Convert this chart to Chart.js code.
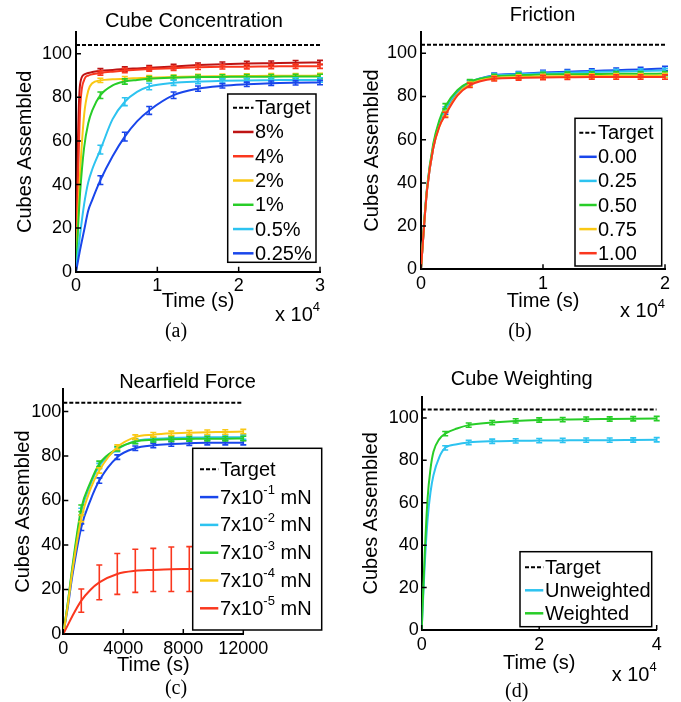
<!DOCTYPE html>
<html>
<head>
<meta charset="utf-8">
<title>Cubes Assembled</title>
<script src="https://cdn.jsdelivr.net/npm/chart.js@4.4.0/dist/chart.umd.min.js"></script>
<style>
  body { margin: 0; background: #fff; }
  #wrap { position: relative; width: 681px; height: 702px; }
  canvas { position: absolute; }
</style>
</head>
<body>
<div id="wrap">
  <canvas id="chartA" width="340" height="345" style="left:0;top:0"></canvas>
  <canvas id="chartB" width="341" height="345" style="left:340px;top:0"></canvas>
  <canvas id="chartC" width="340" height="357" style="left:0;top:345px"></canvas>
  <canvas id="chartD" width="341" height="357" style="left:340px;top:345px"></canvas>
</div>
<script>
var FONT = '"Liberation Sans", Arial, sans-serif';
var SERIF = '"Liberation Serif", "Times New Roman", serif';

var target = 104;
var yTicks = [0, 20, 40, 60, 80, 100];

// (a) cube concentration
var timeA = [0, 250, 500, 1000, 1500, 2000, 3000, 4500, 6000, 7500, 9000, 12000, 15000, 18000, 21000, 24000, 27000, 30000];
var barsA = [3000, 6000, 9000, 12000, 15000, 18000, 21000, 24000, 27000, 30000];
var xTicksA = [0, 10000, 20000, 30000];
var conc8   = [0, 62, 86, 90.5, 91.2, 91.6, 92.2, 92.6, 93, 93.3, 93.6, 94.2, 94.8, 95.2, 95.5, 95.7, 95.9, 96];
var conc4   = [0, 42, 74, 88, 90, 90.6, 91.2, 91.8, 92.3, 92.7, 93, 93.4, 93.8, 94, 94.1, 94.2, 94.3, 94.3];
var conc2   = [0, 25, 45, 72, 83, 86.5, 87.8, 88.3, 88.6, 88.8, 89, 89.3, 89.6, 89.7, 89.8, 89.9, 89.9, 90];
var conc1   = [0, 20, 36, 57, 68, 74, 81, 85.5, 87.3, 88, 88.5, 89, 89.3, 89.4, 89.5, 89.5, 89.6, 89.6];
var conc05  = [0, 9, 17, 31, 41, 47, 56, 70, 78, 82.5, 85, 86.7, 87.3, 87.6, 87.8, 87.9, 88, 88];
var conc025 = [0, 5, 10, 19, 28, 33, 42, 53, 62, 69, 74, 81, 84, 85.3, 86, 86.5, 86.7, 86.8];
var err8   = [1, 1, 1, 1, 1, 1, 1, 1, 1, 1];
var err4   = [1, 1, 1, 1, 1, 1, 1, 1, 1, 1];
var err2   = [1, 1, 1, 1, 1, 1, 1, 1, 1, 1];
var err1   = [1.5, 1.2, 1, 1, 1, 1, 1, 1, 1, 1];
var err05  = [2, 1.8, 1.5, 1.2, 1, 1, 1, 1, 1, 1];
var err025 = [2, 2, 1.8, 1.5, 1.2, 1, 1, 1, 1, 1];

// (b) friction
var timeB = [0, 250, 500, 1000, 1500, 2000, 3000, 4000, 6000, 8000, 10000, 12000, 14000, 16000, 18000, 20000];
var barsB = [2000, 4000, 6000, 8000, 10000, 12000, 14000, 16000, 18000, 20000];
var xTicksB = [0, 10000, 20000];
var fric000 = [0, 20, 37, 56, 67, 73, 82, 86.3, 89.8, 90.5, 91.1, 91.5, 91.8, 92.2, 92.5, 93];
var fric025 = [0, 21, 38, 57, 68, 74, 82.5, 86.7, 89.6, 90.3, 90.8, 91, 91.3, 91.6, 91.8, 92];
var fric050 = [0, 21, 38, 58, 69, 75.5, 83, 86.8, 89.3, 89.8, 90.2, 90.3, 90.4, 90.5, 90.5, 90.6];
var fric075 = [0, 20, 37, 56, 66, 72, 81, 85.7, 88.6, 89, 89.3, 89.4, 89.5, 89.6, 89.6, 89.7];
var fric100 = [0, 20, 37, 56, 66, 71.5, 80.5, 85.2, 88.2, 88.6, 88.8, 88.9, 89, 89, 89, 89];
var errFric = [1.2, 1, 1, 1, 1, 1, 1, 1, 1, 1];

// (c) nearfield force
var timeC = [0, 300, 600, 1200, 1800, 2400, 3600, 4800, 6000, 7200, 8400, 9600, 10800, 12000];
var barsC = [1200, 2400, 3600, 4800, 6000, 7200, 8400, 9600, 10800, 12000];
var xTicksC = [0, 4000, 8000, 12000];
var force1 = [0, 12, 26, 48, 60, 69, 79.5, 83.5, 84.8, 85.4, 85.8, 86, 86, 86];
var force2 = [0, 14, 29, 55, 67, 75.5, 83, 86.7, 87.7, 88.1, 88.3, 88.4, 88.5, 88.5];
var force3 = [0, 14, 30, 56.5, 68, 76.5, 83.3, 86.5, 87.3, 87.6, 87.7, 87.8, 87.8, 87.9];
var force4 = [0, 13, 28, 52, 65, 73.5, 84, 88.5, 89.6, 90.2, 90.5, 90.7, 90.8, 91];
var force5 = [0, 4, 8, 15, 19.8, 23.2, 27, 28.4, 28.8, 29.1, 29.2, 29.3, 29.3, 29.3];
var errForce = [1.5, 1.2, 1, 1, 1, 1, 1, 1, 1, 1];
var errForce5 = [5.2, 7.8, 9.2, 9.7, 9.7, 10, 10.1, 10, 10, 10];

// (d) cube weighting
var timeD = [0, 500, 1000, 1500, 2000, 3000, 4000, 6000, 8000, 12000, 16000, 20000, 24000, 28000, 32000, 36000, 40000];
var barsD = [4000, 8000, 12000, 16000, 20000, 24000, 28000, 32000, 36000, 40000];
var xTicksD = [0, 20000, 40000];
var unweighted = [0, 30, 52, 65, 73, 81.5, 85.9, 87.6, 88.4, 89, 89.2, 89.3, 89.4, 89.5, 89.5, 89.6, 89.7];
var weighted   = [0, 35, 62, 76, 84, 90, 92.6, 95, 96.6, 97.8, 98.6, 99, 99.2, 99.4, 99.5, 99.6, 99.7];
var errWeight = [1, 1, 1, 1, 1, 1, 1, 1, 1, 1];

var DARKRED = 'rgb(190,20,20)', RED = 'rgb(250,55,30)', YELLOW = 'rgb(250,200,20)',
    GREEN = 'rgb(40,205,40)', CYAN = 'rgb(45,195,240)', BLUE = 'rgb(25,70,235)';

function series(label, times, values, color, errs) {
  return {
    label: label,
    data: times.map(function (t, i) { return { x: t, y: values[i] }; }),
    borderColor: color, borderWidth: 2, pointRadius: 0, fill: false,
    cubicInterpolationMode: 'monotone', errs: errs
  };
}

function targetLine(times) {
  return {
    label: 'Target',
    data: [{ x: times[0], y: target }, { x: times[times.length - 1], y: target }],
    borderColor: '#000', borderWidth: 2, borderDash: [4, 2], pointRadius: 0
  };
}

// text with ^{...} superscripts
function richWidth(ctx, text, size) {
  var parts = text.split(/\^\{([^}]*)\}/), w = 0;
  parts.forEach(function (s, i) {
    ctx.font = (i % 2 ? Math.round(size * 0.65) : size) + 'px ' + FONT;
    w += ctx.measureText(s).width;
  });
  return w;
}
function richText(ctx, text, x, y, size) {
  var parts = text.split(/\^\{([^}]*)\}/);
  ctx.textAlign = 'left';
  ctx.textBaseline = 'middle';
  parts.forEach(function (s, i) {
    var sup = i % 2 === 1;
    ctx.font = (sup ? Math.round(size * 0.65) : size) + 'px ' + FONT;
    ctx.fillText(s, x, sup ? y - size * 0.38 : y);
    x += ctx.measureText(s).width;
  });
}

function panelDecor(p) {
  return {
    id: 'panelDecor',
    afterDatasetDraw: function (chart, args) {
      var ds = chart.data.datasets[args.index];
      if (!ds.errs) return;
      var xs = chart.scales.x, ys = chart.scales.y, ctx = chart.ctx;
      ctx.save();
      ctx.strokeStyle = ds.borderColor;
      ctx.lineWidth = 1.6;
      ds.data.forEach(function (pt) {
        var k = p.bars.indexOf(pt.x);
        if (k < 0) return;
        var e = ds.errs[k], px = xs.getPixelForValue(pt.x);
        var top = ys.getPixelForValue(pt.y + e), bot = ys.getPixelForValue(pt.y - e);
        ctx.beginPath();
        ctx.moveTo(px, top); ctx.lineTo(px, bot);
        ctx.moveTo(px - 3, top); ctx.lineTo(px + 3, top);
        ctx.moveTo(px - 3, bot); ctx.lineTo(px + 3, bot);
        ctx.stroke();
      });
      ctx.restore();
    },
    afterDatasetsDraw: function (chart) {
      var ctx = chart.ctx, a = chart.chartArea, xs = chart.scales.x, ys = chart.scales.y;
      ctx.save();
      // inward tick marks
      ctx.strokeStyle = '#000';
      ctx.lineWidth = 1.5;
      ctx.beginPath();
      xs.ticks.forEach(function (t) {
        var px = xs.getPixelForValue(t.value);
        ctx.moveTo(px, a.bottom); ctx.lineTo(px, a.bottom - 5);
      });
      ys.ticks.forEach(function (t) {
        var py = ys.getPixelForValue(t.value);
        ctx.moveTo(a.left, py); ctx.lineTo(a.left + 5, py);
      });
      ctx.stroke();

      // legend box
      var lg = p.legend, b = lg.box;
      ctx.fillStyle = '#fff';
      ctx.fillRect(b[0], b[1], b[2] - b[0], b[3] - b[1]);
      ctx.lineWidth = 1.5;
      ctx.strokeRect(b[0], b[1], b[2] - b[0], b[3] - b[1]);
      chart.data.datasets.forEach(function (ds, i) {
        var y = lg.row0 + i * lg.step;
        ctx.save();
        ctx.strokeStyle = ds.borderColor;
        ctx.lineWidth = ds.borderDash ? 2 : 2.5;
        ctx.setLineDash(ds.borderDash || []);
        ctx.beginPath();
        ctx.moveTo(lg.sx[0], y); ctx.lineTo(lg.sx[1], y);
        ctx.stroke();
        ctx.restore();
        ctx.fillStyle = '#000';
        richText(ctx, ds.label, lg.tx, y + 1, 20);
      });
      ctx.restore();
    },
    afterDraw: function (chart) {
      var ctx = chart.ctx;
      ctx.save();
      ctx.fillStyle = '#000';
      ctx.textBaseline = 'middle';
      ctx.textAlign = 'center';
      ctx.font = '20px ' + FONT;
      ctx.fillText(p.title, p.titleX, p.titleY);
      if (p.mult) {
        var w = richWidth(ctx, p.mult, 20);
        richText(ctx, p.mult, p.multRight - w, p.multY, 20);
      }
      ctx.textAlign = 'center';
      ctx.font = '20px ' + SERIF;
      ctx.fillText(p.caption, p.capX, p.capY);
      ctx.restore();
    }
  };
}

function makePanel(id, p, datasets) {
  var canvas = document.getElementById(id);
  var H = canvas.height, W = canvas.width;
  datasets.forEach(function (d, i) { d.order = -i; });
  return new Chart(canvas, {
    type: 'line',
    data: { datasets: datasets },
    options: {
      responsive: false,
      animation: false,
      layout: { padding: { top: p.area.top, right: W - p.area.right, left: 0, bottom: 0 } },
      plugins: { legend: { display: false }, tooltip: { enabled: false } },
      scales: {
        x: {
          type: 'linear', min: 0, max: p.xTicks[p.xTicks.length - 1],
          grid: { display: false, drawTicks: false },
          border: { display: true, color: '#000', width: 2 },
          ticks: {
            color: '#000', font: { size: 18, family: FONT }, padding: 4,
            autoSkip: false, maxRotation: 0,
            callback: function (v) { return String(v / p.xDiv); }
          },
          afterBuildTicks: function (s) { s.ticks = p.xTicks.map(function (v) { return { value: v }; }); },
          afterFit: function (s) { s.height = H - p.area.bottom; },
          title: {
            display: true, text: 'Time (s)', color: '#000',
            font: { size: 20, family: FONT },
            padding: { top: 0, bottom: H - 12 - p.xTitleY }
          }
        },
        y: {
          min: 0, max: 110,
          grid: { display: false, drawTicks: false },
          border: { display: true, color: '#000', width: 2 },
          ticks: { color: '#000', font: { size: 18, family: FONT }, padding: p.yPad },
          afterBuildTicks: function (s) { s.ticks = yTicks.map(function (v) { return { value: v }; }); },
          afterFit: function (s) { s.width = p.area.left; },
          title: {
            display: true, text: 'Cubes Assembled', color: '#000',
            font: { size: 20, family: FONT },
            padding: { top: p.yTitleX - 12, bottom: 0 }
          }
        }
      }
    },
    plugins: [panelDecor(p)]
  });
}

Chart.defaults.font.family = FONT;

makePanel('chartA', {
  area: { left: 76, right: 320, top: 32, bottom: 271.7 },
  xTicks: xTicksA, xDiv: 10000, bars: barsA, yPad: 4,
  yTitleX: 25.7, xTitleY: 301.7,
  title: 'Cube Concentration', titleX: 194, titleY: 21.7,
  mult: 'x 10^{4}', multRight: 320, multY: 315,
  caption: '(a)', capX: 176, capY: 331.7,
  legend: { box: [227.7, 94, 316, 262.3], row0: 107.7, step: 24.27, sx: [233, 253.5], tx: 255 }
}, [
  targetLine(timeA),
  series('8%', timeA, conc8, DARKRED, err8),
  series('4%', timeA, conc4, RED, err4),
  series('2%', timeA, conc2, YELLOW, err2),
  series('1%', timeA, conc1, GREEN, err1),
  series('0.5%', timeA, conc05, CYAN, err05),
  series('0.25%', timeA, conc025, BLUE, err025)
]);

makePanel('chartB', {
  area: { left: 81, right: 325, top: 31.7, bottom: 269.3 },
  xTicks: xTicksB, xDiv: 10000, bars: barsB, yPad: 4,
  yTitleX: 32.5, xTitleY: 301.7,
  title: 'Friction', titleX: 202.5, titleY: 15.7,
  mult: 'x 10^{4}', multRight: 325, multY: 311.7,
  caption: '(b)', capX: 180, capY: 331.7,
  legend: { box: [235, 118.3, 321.7, 266], row0: 132.7, step: 24.1, sx: [239.3, 256.7], tx: 258 }
}, [
  targetLine(timeB),
  series('0.00', timeB, fric000, BLUE, errFric),
  series('0.25', timeB, fric025, CYAN, errFric),
  series('0.50', timeB, fric050, GREEN, errFric),
  series('0.75', timeB, fric075, YELLOW, errFric),
  series('1.00', timeB, fric100, RED, errFric)
]);

makePanel('chartC', {
  area: { left: 63.3, right: 243.3, top: 44.3, bottom: 289 },
  xTicks: xTicksC, xDiv: 1, bars: barsC, yPad: 2,
  yTitleX: 23.3, xTitleY: 320,
  title: 'Nearfield Force', titleX: 187.5, titleY: 37.3,
  mult: null,
  caption: '(c)', capX: 176, capY: 343.3,
  legend: { box: [192.7, 103.3, 321.7, 285], row0: 124.3, step: 27.8, sx: [200, 218.3], tx: 220 }
}, [
  targetLine(timeC),
  series('7x10^{-1} mN', timeC, force1, BLUE, errForce),
  series('7x10^{-2} mN', timeC, force2, CYAN, errForce),
  series('7x10^{-3} mN', timeC, force3, GREEN, errForce),
  series('7x10^{-4} mN', timeC, force4, YELLOW, errForce),
  series('7x10^{-5} mN', timeC, force5, RED, errForce5)
]);

makePanel('chartD', {
  area: { left: 81.7, right: 316.7, top: 51.7, bottom: 285 },
  xTicks: xTicksD, xDiv: 10000, bars: barsD, yPad: 3,
  yTitleX: 31.7, xTitleY: 318.3,
  title: 'Cube Weighting', titleX: 181.7, titleY: 34.2,
  mult: 'x 10^{4}', multRight: 316.7, multY: 330.5,
  caption: '(d)', capX: 176.7, capY: 346.7,
  legend: { box: [180, 206.7, 311.7, 281.7], row0: 222.3, step: 23, sx: [185, 203.3], tx: 205 }
}, [
  targetLine(timeD),
  series('Unweighted', timeD, unweighted, CYAN, errWeight),
  series('Weighted', timeD, weighted, GREEN, errWeight)
]);
</script>
</body>
</html>
